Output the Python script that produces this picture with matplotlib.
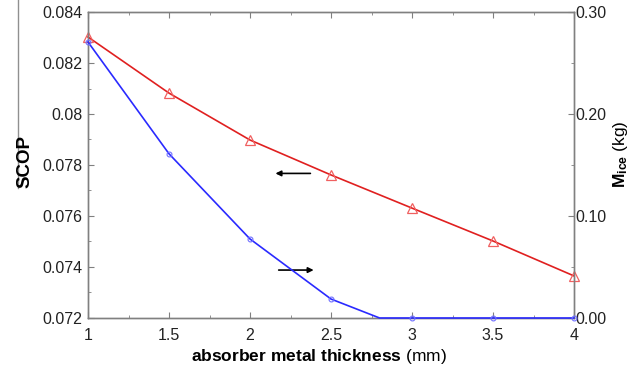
import matplotlib
matplotlib.use("Agg")
import matplotlib.pyplot as plt
from matplotlib.ticker import MultipleLocator, FormatStrFormatter, FuncFormatter
from matplotlib.lines import Line2D

plt.rcParams['font.family'] = ['Liberation Sans', 'DejaVu Sans']
plt.rcParams['mathtext.fontset'] = 'custom'
plt.rcParams['mathtext.rm'] = 'Liberation Sans'
plt.rcParams['mathtext.it'] = 'Liberation Sans:italic'
plt.rcParams['mathtext.bf'] = 'Liberation Sans:bold'

# absorber metal thickness (mm)
thickness = [1.0, 1.5, 2.0, 2.5, 3.0, 3.5, 4.0]
# seasonal coefficient of performance (left axis)
scop = [0.08302, 0.08082, 0.07898, 0.07761, 0.07631, 0.07502, 0.07365]
# ice mass produced (kg, right axis)
m_ice = [0.2706, 0.161, 0.0775, 0.0186, 0.0, 0.0, 0.0]
# fitted ice curve, reaching zero before 3 mm
m_ice_curve_x = [1.0, 1.5, 2.0, 2.5, 2.8, 3.0, 3.5, 4.0]
m_ice_curve_y = [0.2706, 0.161, 0.0775, 0.0186, 0.0, 0.0, 0.0, 0.0]

fig = plt.figure(figsize=(6.4, 3.77), dpi=100)
ax = fig.add_axes([88/640, 1-318/377, (574-88)/640, (318-12)/377])
ax2 = ax.twinx()

red = '#e02020'
blue = '#2a2aff'
ax.plot(thickness, scop, color=red, lw=1.2, marker='^', ms=6.5,
        mfc='none', mec='#f06060', mew=0.9, clip_on=False, zorder=3)
ax2.plot(m_ice_curve_x, m_ice_curve_y, color=blue, lw=1.2, clip_on=False, zorder=3)
ax2.plot(thickness, m_ice, ls='none', marker='o', ms=3.5,
         mfc='none', mec='#7070ff', mew=0.8, clip_on=False, zorder=3)

ax.set_xlim(1, 4)
ax.set_ylim(0.072, 0.084)
ax2.set_ylim(0, 0.30)

ax.xaxis.set_major_locator(MultipleLocator(0.5))
ax.xaxis.set_minor_locator(MultipleLocator(0.25))
ax.yaxis.set_major_locator(MultipleLocator(0.002))
ax.yaxis.set_minor_locator(MultipleLocator(0.001))
ax2.yaxis.set_major_locator(MultipleLocator(0.1))
ax2.yaxis.set_minor_locator(MultipleLocator(0.05))
ax.xaxis.set_major_formatter(FuncFormatter(lambda v, p: f"{v:g}"))
ax.yaxis.set_major_formatter(FuncFormatter(lambda v, p: f"{round(v, 4):g}"))
ax2.yaxis.set_major_formatter(FormatStrFormatter('%.2f'))

spine_c = '#808080'
for a in (ax, ax2):
    for s in a.spines.values():
        s.set_color(spine_c)
        s.set_linewidth(1.0)
ax.tick_params(axis='both', which='both', direction='in', colors=spine_c,
               labelcolor='#222222', labelsize=11.5, top=True, right=False)
ax.tick_params(which='major', length=4)
ax.tick_params(which='minor', length=2.5)
ax.tick_params(axis='x', pad=7)
ax.tick_params(axis='y', pad=4)
ax2.tick_params(axis='y', which='both', direction='in', colors=spine_c,
                labelcolor='#222222', labelsize=11.5, pad=1)
ax2.tick_params(which='major', length=4)
ax2.tick_params(which='minor', length=2.5)

# axis titles
fig.text(319/640, 1-357/377, r"$\bf{absorber\ metal\ thickness}$ (mm)",
         ha='center', va='center', fontsize=12.5)
fig.text(25/640, 1-161/377, "SCOP", rotation=90, ha='center', va='center',
         fontsize=13.5, fontweight='bold')
fig.text(621/640, 1-154/377, r"$\mathbf{M_{ice}}$ (kg)", rotation=90,
         ha='center', va='center', fontsize=12.5)

# side marker line above the left title
fig.add_artist(Line2D([18/640, 18/640], [1.0, 1-188/377],
                      color='#909090', lw=1.0, transform=fig.transFigure))

# arrows pointing to the axis each curve belongs to
ax.annotate('', xy=(2.14, 0.07767), xytext=(2.39, 0.07767),
            arrowprops=dict(arrowstyle='-|>', color='black', lw=1.2,
                            mutation_scale=8))
ax.annotate('', xy=(2.41, 0.07388), xytext=(2.16, 0.07388),
            arrowprops=dict(arrowstyle='-|>', color='black', lw=1.2,
                            mutation_scale=8))

fig.savefig("out.png", dpi=100)
